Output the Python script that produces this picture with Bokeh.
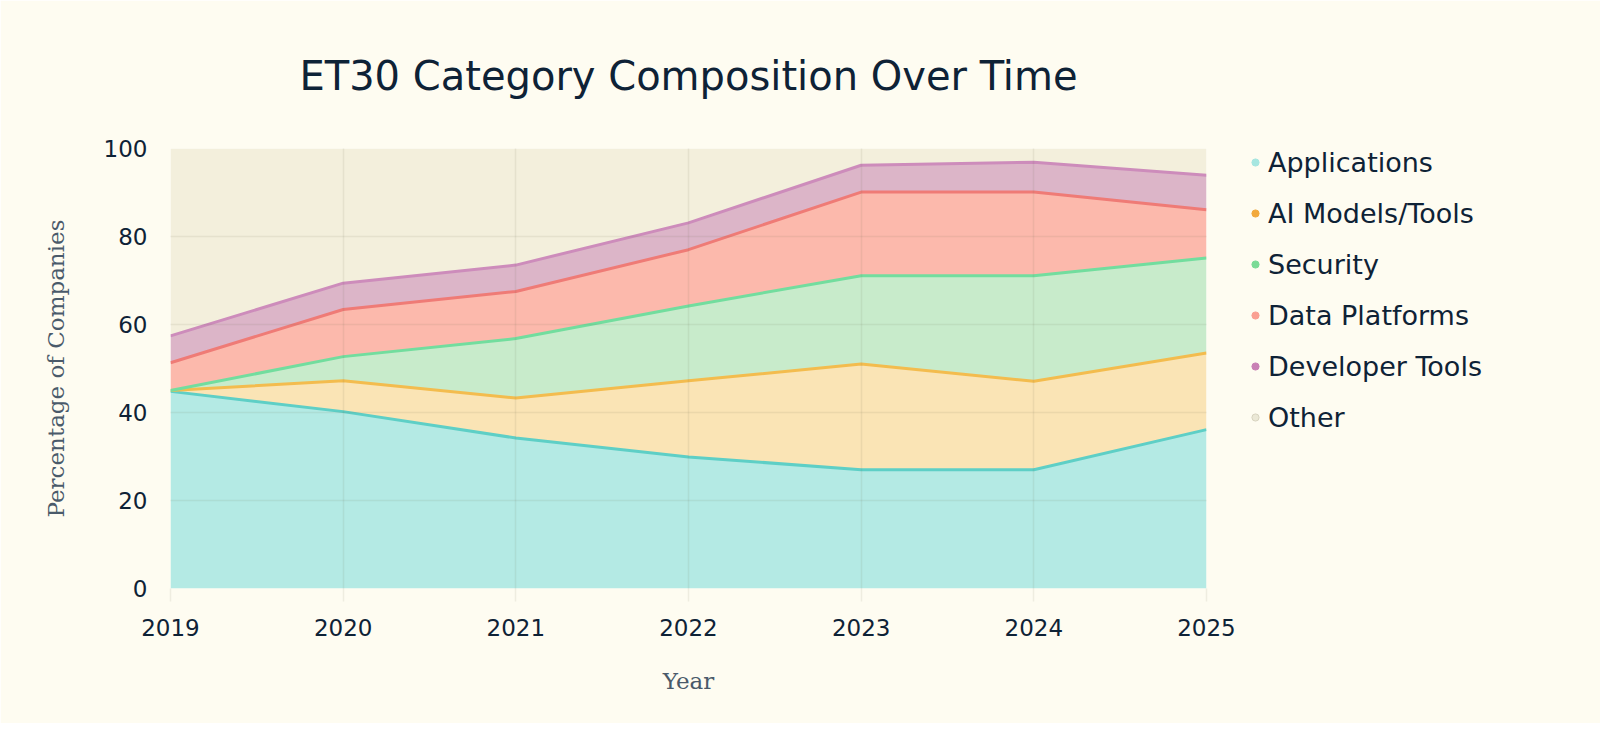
from bokeh.plotting import figure
from bokeh.models import ColumnDataSource, Legend, LegendItem, FixedTicker
from bokeh.embed import file_html
from bokeh.resources import INLINE

years = [2019, 2020, 2021, 2022, 2023, 2024, 2025]
applications = [44.8, 40.2, 34.2, 29.9, 27.0, 27.0, 36.1]
ai_models = [0.2, 7.0, 9.1, 17.3, 24.0, 20.1, 17.4]
security = [0.0, 5.5, 13.5, 17.0, 20.1, 24.0, 21.6]
data_platforms = [6.3, 10.7, 10.7, 12.8, 19.0, 19.0, 11.0]
developer_tools = [6.1, 6.0, 6.0, 6.1, 6.1, 6.8, 7.8]
other = [42.6, 30.6, 26.5, 16.9, 3.8, 3.1, 6.1]

categories = ["Applications", "AI Models/Tools", "Security", "Data Platforms", "Developer Tools", "Other"]
keys = ["app", "ai", "sec", "data", "dev", "other"]
fill_colors = ["#b4eae4", "#fae4b5", "#c8ebcb", "#fcb9ac", "#dcb5c8", "#f3efdc"]
line_colors = ["#5ecfc6", "#f3bc4e", "#72dd9e", "#ef7b76", "#cd8cbb"]
dot_colors = ["#a6e6e0", "#f2a93c", "#7adb96", "#fa9f92", "#c980b5", "#ebe8d6"]

source = ColumnDataSource(dict(year=years, app=applications, ai=ai_models, sec=security,
                               data=data_platforms, dev=developer_tools, other=other))

BG = "#fefcf1"
TEXT = "#0e2236"

p = figure(width=1584, height=716, frame_width=1036, frame_height=440,
           output_backend="svg", toolbar_location=None,
           x_range=(2019, 2025), y_range=(0, 100),
           min_border_left=170, min_border_right=378, min_border_top=141, min_border_bottom=135,
           background_fill_color=BG, border_fill_color=BG, outline_line_color=None,
           title="ET30 Category Composition Over Time")

p.title.text_font = "DejaVu Sans"
p.title.text_font_size = "40px"
p.title.text_font_style = "normal"
p.title.text_color = TEXT
p.title.align = "center"
p.title.standoff = 100

p.varea_stack(stackers=keys, x="year", color=fill_colors, source=source)
p.vline_stack(stackers=keys[:5], x="year", color=line_colors, line_width=3, source=source)

# grid
for g in (p.xgrid, p.ygrid):
    g.grid_line_color = "#6e6a50"
    g.grid_line_alpha = 0.1
    g.grid_line_width = 1.5
    g.level = "overlay"

p.xaxis.ticker = FixedTicker(ticks=years)
p.yaxis.ticker = FixedTicker(ticks=[0, 20, 40, 60, 80, 100])

for ax in (p.xaxis, p.yaxis):
    ax.axis_line_color = None
    ax.minor_tick_line_color = None
    ax.major_label_text_font = "DejaVu Sans"
    ax.major_label_text_font_size = "23px"
    ax.major_label_text_color = TEXT
    ax.axis_label_text_font = "DejaVu Serif"
    ax.axis_label_text_font_size = "23px"
    ax.axis_label_text_font_style = "normal"
    ax.axis_label_text_color = "#4a5a6a"

p.xaxis.major_tick_line_color = "#6e6a50"
p.xaxis.major_tick_line_alpha = 0.1
p.xaxis.major_tick_line_width = 1.5
p.xaxis.major_tick_in = 0
p.xaxis.major_tick_out = 13
p.xaxis.major_label_standoff = 17
p.xaxis.axis_label = "Year"
p.xaxis.axis_label_standoff = 29

p.yaxis.major_tick_line_color = None
p.yaxis.major_label_standoff = 17
p.yaxis.axis_label = "Percentage of Companies"
p.yaxis.axis_label_standoff = 32

# legend with dot markers (placeholder renderers carry no visible data)
nan = float("nan")
items = []
for name, col in zip(categories, dot_colors):
    r = p.scatter(x=[nan], y=[nan], size=7, fill_color=col,
                  line_color="#d8d4c0" if name == "Other" else col, line_width=1)
    items.append(LegendItem(label=name, renderers=[r]))

legend = Legend(items=items, location=(39, 155), orientation="vertical",
                background_fill_alpha=0, border_line_color=None,
                label_text_font="DejaVu Sans", label_text_font_size="27px",
                label_text_color=TEXT, glyph_width=20, glyph_height=18,
                label_height=32, spacing=19, padding=0, margin=0, label_standoff=3)
p.add_layout(legend, "right")

open("out.html", "w").write(file_html(p, INLINE))
